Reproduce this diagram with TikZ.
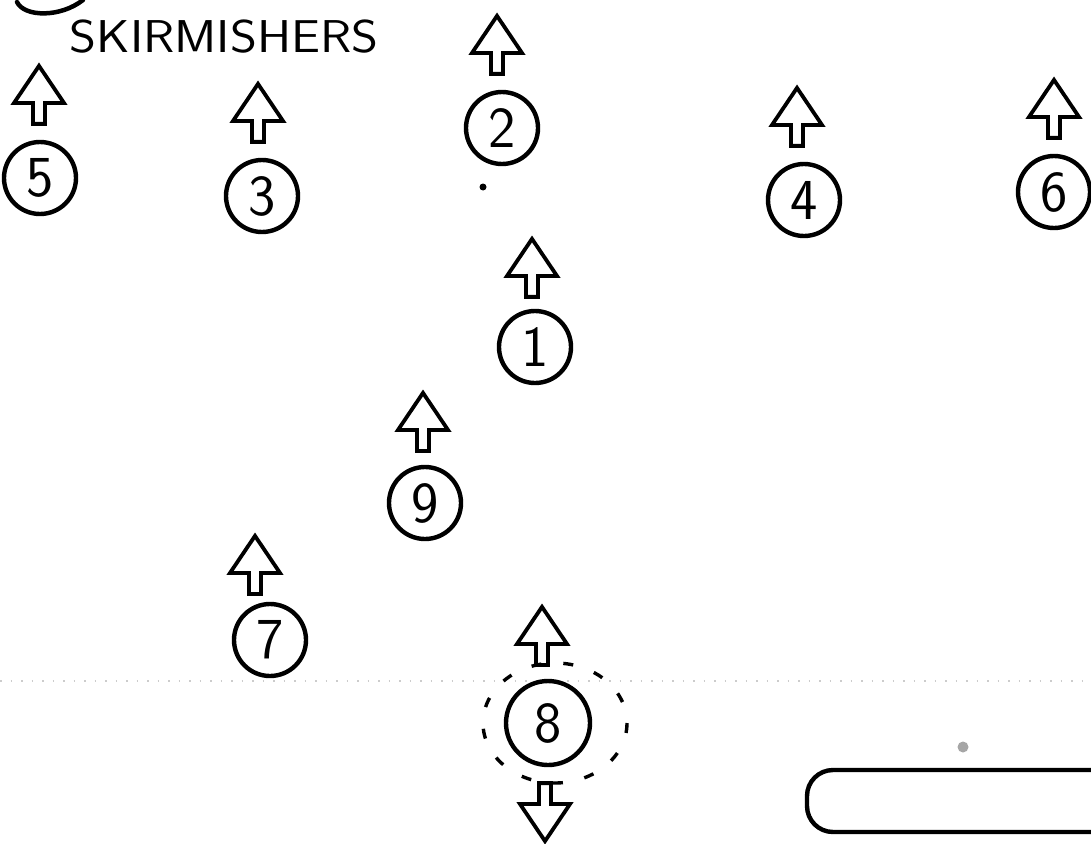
\documentclass[tikz,border=0pt]{standalone}
\usepackage{tikz}
\usetikzlibrary{arrows.meta, positioning, shapes.arrows}

\begin{document}
\begin{tikzpicture}[
    x=1pt, y=-1pt,
    node distance=14pt,
    man/.style={circle, draw, line width=4.4pt, minimum size=72pt, inner sep=0pt,
                font=\fontsize{58}{58}\selectfont\sffamily},
    facing/.style={single arrow, draw, line width=3.8pt, fill=white,
                   shape border rotate=90, minimum height=58pt, minimum width=50pt,
                   single arrow head extend=6pt, single arrow tip angle=68,
                   inner sep=0pt},
    backward/.style={facing, shape border rotate=270},
    title/.style={font=\fontsize{46}{46}\selectfont\sffamily, xscale=1.12, transform shape},
]
    \useasboundingbox (0,0) rectangle (1091,843);

    % scan line
    \draw[gray!40, line width=1.2pt, dash pattern=on 1.5pt off 9pt] (0,681) -- (1091,681);

    \draw[line width=4.5pt, line cap=round] (17,2) .. controls (24,17) and (60,18) .. (83,0);
    \node[title] (label) at (224,37) {SKIRMISHERS};

    % front line
    \node[man] (c5) at (40,178) {5};
    \node[man] (c3) at (262,196) {3};
    \node[man] (c2) at (502,128) {2};
    \node[man] (c4) at (804,200) {4};
    \node[man] (c6) at (1054,192) {6};

    % second line
    \node[man] (c1) at (535,347) {1};
    \node[man] (c9) at (425,503) {9};
    \node[man] (c7) at (270,640) {7};
    \node[man, minimum size=84pt] (c8) at (548,723) {8};

    \node[facing, above=of c5, xshift=-1pt] (a5) {};
    \node[facing, above=of c3, xshift=-4pt] (a3) {};
    \node[facing, above=of c2, xshift=-5pt] (a2) {};
    \node[facing, above=of c4, xshift=-7pt] (a4) {};
    \node[facing, above=of c6] (a6) {};
    \node[facing, above=10pt of c1, xshift=-3pt] (a1) {};
    \node[facing, above=12pt of c9, xshift=-2pt] (a9) {};
    \node[facing, above=6pt of c7, xshift=-15pt] (a7) {};
    \node[facing, above=12pt of c8, xshift=-6pt] (a8) {};
    \node[backward, below=14pt of c8, xshift=-3pt] (b8) {};

    \draw[line width=3.4pt, dash pattern=on 10pt off 22pt] ([xshift=7pt]c8.center) ellipse [x radius=72, y radius=60];
    \fill (483,187) circle (3.5);

    % bottom right
    \fill[gray!70] (963,747) circle (5.5);
    \draw[line width=4.4pt, rounded corners=26pt] (1091,770) -- (807,770) -- (807,832) -- (1091,832);
\end{tikzpicture}
\end{document}
